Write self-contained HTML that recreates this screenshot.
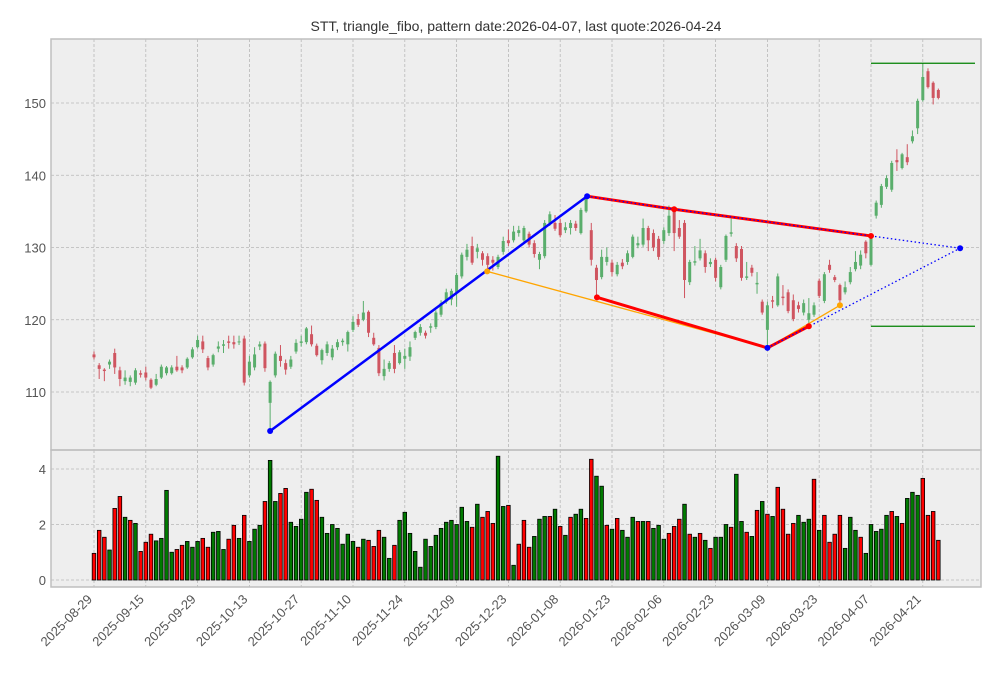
<!DOCTYPE html>
<html>
<head>
<meta charset="utf-8">
<style>
html,body{margin:0;padding:0;background:#fff;}
svg{display:block;font-family:"Liberation Sans",sans-serif;}
</style>
</head>
<body>
<svg id="chart" width="1001" height="678" viewBox="0 0 1001 678" xmlns="http://www.w3.org/2000/svg">
  <rect x="0" y="0" width="1001" height="678" fill="#ffffff"/>
  <text x="516" y="31" text-anchor="middle" font-size="14" fill="#333">STT, triangle_fibo, pattern date:2026-04-07, last quote:2026-04-24</text>
  <rect x="51" y="39" width="930" height="411" fill="#eeeeee"/>
  <rect x="51" y="450" width="930" height="137" fill="#eeeeee"/>
  <g id="grid"></g>
  <g id="candles"></g>
  <g id="vols"></g>
  <g id="pattern"></g>
  <rect x="51" y="39" width="930" height="411" fill="none" stroke="#bfbfbf" stroke-width="1.5"/>
  <rect x="51" y="450" width="930" height="137" fill="none" stroke="#bfbfbf" stroke-width="1.5"/>
  <g id="labels"></g>
</svg>
<script>
const openP=[115.2,113.7,113.1,113.8,115.4,113,111.5,111.4,111.3,112.6,112.7,111.7,111,112,112.6,112.6,113.5,113.4,113.4,114.8,116.2,117,114.7,113.8,116,116.4,117,116.9,116.9,117.4,112.3,113.4,116.3,116.7,108.5,112.3,115,114,113.5,115.6,116.8,116.9,118,116.4,114.4,115.4,114.8,116.2,116.9,116.6,118.6,120.1,120,121.1,117.5,116.1,112.2,113.2,115.4,114,114.6,114.9,117.5,118.2,118.2,118.9,119,120.7,122.5,122.8,123.8,126,128.7,130.2,129.4,129.2,128.8,128.3,127.3,129.4,131,131,132,131,131.9,130.6,128.3,128.8,133.4,133.4,133.4,132.4,132.7,133.3,132,135,132.4,127.2,125.9,128,127.9,126.3,127.9,128,128.7,130.3,130.4,132.7,132,131.2,130.9,132,135.2,132.7,133.4,125.2,127.9,128.5,129.2,127.7,128.3,124.5,128.3,131.9,130.2,129.8,125.8,127.2,124.9,122.5,118.6,122.7,122,123.2,123.8,122.7,122,121,120,120.7,125.4,122.6,127.6,125.9,124.8,123.8,125.2,127,127.5,130.8,127.6,134.4,135.9,138.4,138,142.1,141,142.5,144.7,146.5,150.4,154.4,152.8,151.8];
const closeP=[114.8,113.2,112.9,114.2,113.4,111.8,112,112,113,112.4,112,110.6,111.8,113.5,113.4,113.4,113,113,114.6,115.9,117.2,115.9,113.4,115.1,116.3,116.6,116.8,116.6,117,111.3,114.2,115.2,116.6,113.3,111.4,115.3,114.3,113.1,114.5,116.8,117,118.8,116.6,115.1,115.8,116.6,116,116.9,117.1,118.3,119.7,119.3,121,118.2,116.6,112.6,113.2,114,113.2,115.5,115,116.2,118.3,119,117.8,119.1,121,122.3,123.8,124,126.2,129,129.7,127.9,129.9,128.3,127.6,127.9,128.7,130.9,130.6,132.2,132.4,132.7,130.4,129.1,129.1,133.4,134.6,132.6,131.7,132.8,133.4,132.7,135.2,136.9,128.3,125.5,128.7,128.7,126.6,127.6,127.4,129.2,131.5,130.6,132.7,131,130,128.7,132.4,134.4,132,131.5,125.5,128,128.1,129.6,127.3,128,125.8,127.3,131.6,132.1,128.5,125.8,126,126.5,125.1,121,122,122.5,126,123,121.2,120.1,121.5,122.3,120.9,122,123.3,126.3,126.9,125.5,122.7,124.5,126.6,128,129,129.2,131.5,136.2,138.5,139.6,141.7,141.8,142.9,141.8,145.4,150.3,153.6,152.2,150.7,150.7];
const highP=[115.6,114,113.3,114.5,116,113.5,113,112.3,113.3,113,113.5,111.9,112.5,113.8,113.6,113.7,115,113.7,114.8,116.2,117.8,117.8,115,115.3,117,117.2,117.8,117.8,117.8,117.8,115,116.2,117,117,111.6,115.6,116.5,114.5,115,117.3,117.8,119,119.2,116.7,116,117,116.5,117.3,117.4,118.5,120.5,120.8,122.6,121.3,118.2,116.5,114.5,114.3,116.5,115.8,116,117,118.5,119.4,118.5,119.5,121.3,122.7,124.3,124.3,126.5,129.3,130.5,131.5,130.5,129.5,129.2,128.8,129,131.5,132.5,133,133,133,132.2,131,129.4,133.8,135,134.5,134,133.5,133.8,133.7,135.5,137.1,133.4,127.6,129.7,130,128.3,128,128.4,129.6,131.8,131.5,134,133,132.5,131.6,132.8,135.8,135.5,133.8,133.8,128.3,130.2,131.2,129.6,128.5,128.6,127.6,131.8,134,130.6,130.2,128,127.6,126.6,122.8,122.5,123.3,126.4,124.8,124.2,123.5,122.5,122.8,123,122.4,125.7,126.6,128.3,126.2,125,125.3,127.3,129.5,129.6,131,131.7,136.5,138.8,140,142,143.6,143.1,144.3,146.2,150.6,155.5,154.8,153,152];
const lowP=[114.5,111.8,111.5,113.2,112.5,110.8,111,110.8,111,112,111.6,110.4,110.8,111.8,112.3,112.4,112.8,112.6,113.2,114.6,116,115.4,113,113.5,115.5,115.4,116,116,116.5,110.9,112,113,115.8,112.8,104.6,112,113.5,112.4,113.2,115.3,116.3,116.6,116.3,114.9,113.8,115,114.4,115.8,116.4,115.6,118.3,119,119.8,117.6,116.4,112.2,111.6,112.8,112.6,113.8,113.2,114.3,117.2,117.8,117.4,118.2,118.7,120.4,122.2,122,121.8,125.7,128.2,127.6,128.5,127.5,126.5,126.8,127,129,130.2,130.7,131.5,130.5,130,128.6,127,128.5,133,132.3,131.4,132,131.8,132.3,131.8,134.8,127.5,123.1,125.6,127.5,126,126,127,127.6,128.5,129.9,130.1,129.5,129.5,128.3,130.5,131.6,129.5,131.2,123,124.8,127.5,128.2,126.5,127.3,125.3,124.2,128,131.5,128,125.4,125.5,126,123.6,120.7,116.1,121.6,121.8,122,120.9,119.8,121,120.6,119.1,120.4,123,122.3,126.5,125.2,122.4,123.5,124.9,126.7,127,128.5,127.4,134,135.5,138.1,137.7,140.6,140.8,141.4,144.4,145.7,150.2,152,149.8,150.5];
const volume=[0.96,1.79,1.54,1.08,2.58,3.01,2.26,2.15,2.04,1.03,1.36,1.65,1.41,1.5,3.23,1.0,1.1,1.25,1.39,1.18,1.39,1.5,1.18,1.72,1.75,1.1,1.47,1.97,1.5,2.33,1.39,1.83,1.97,2.83,4.31,2.83,3.12,3.3,2.08,1.93,2.19,3.16,3.27,2.87,2.26,1.68,2.0,1.86,1.29,1.65,1.39,1.18,1.47,1.43,1.21,1.79,1.54,0.78,1.25,2.15,2.44,1.68,1.03,0.46,1.47,1.21,1.61,1.86,2.08,2.15,2.0,2.62,2.11,1.9,2.73,2.26,2.47,2.04,4.46,2.65,2.69,0.53,1.29,2.15,1.18,1.57,2.19,2.29,2.29,2.55,1.93,1.61,2.26,2.37,2.55,2.22,4.35,3.74,3.38,1.97,1.83,2.22,1.79,1.54,2.26,2.11,2.11,2.11,1.86,1.97,1.47,1.68,1.93,2.19,2.73,1.65,1.54,1.68,1.43,1.14,1.54,1.54,2.0,1.9,3.81,2.11,1.72,1.57,2.51,2.83,2.37,2.29,3.34,2.55,1.65,2.04,2.33,2.08,2.19,3.63,1.79,2.33,1.36,1.65,2.33,1.14,2.26,1.79,1.54,0.96,2.0,1.75,1.83,2.33,2.47,2.29,2.04,2.94,3.16,3.05,3.66,2.33,2.47,1.43];
const volUp=[0,0,0,1,0,0,1,0,1,0,0,0,1,1,1,1,0,0,1,1,1,0,0,1,1,1,0,0,1,0,1,1,1,0,1,1,0,0,1,1,1,1,0,0,1,1,1,1,1,1,1,0,1,0,0,0,1,1,0,1,1,1,1,1,1,1,1,1,1,1,1,1,1,0,1,0,0,0,1,1,0,1,0,0,0,1,1,1,0,1,0,1,0,1,1,0,0,1,1,0,1,0,1,1,1,0,1,0,1,1,1,0,0,0,1,0,1,0,1,0,1,1,1,0,1,1,0,1,0,1,0,1,0,0,0,0,1,1,1,0,1,0,0,0,0,1,1,1,0,1,1,1,1,1,0,1,0,1,1,1,0,0,0];
const tickLabels=["2025-08-29","2025-09-15","2025-09-29","2025-10-13","2025-10-27","2025-11-10","2025-11-24","2025-12-09","2025-12-23","2026-01-08","2026-01-23","2026-02-06","2026-02-23","2026-03-09","2026-03-23","2026-04-07","2026-04-21"];
const tickIdx=[0,10,20,30,40,50,60,70,80,90,100,110,120,130,140,150,160];
const priceTicks=[110,120,130,140,150];
const volTicks=[0,2,4];
const blueLine=[[34,104.6],[95.2,137.1]];
const redTop=[[95.2,137.1],[112,135.3],[150,131.6]];
const redBottom=[[97.1,123.1],[130,116.1],[138,119.1]];
const orangeLine=[[75.9,126.7],[130,116.1],[144,122.0]];
const blueDot1=[[150,131.6],[167.2,129.9]];
const blueDot2=[[130,116.1],[167.2,129.9]];
const greenLevels=[155.5,119.1];
const greenStart=150;

const NS="http://www.w3.org/2000/svg";
const xS=i=>94+i*5.18;
const yP=p=>392-(p-110)*7.225;
const yV=v=>580-v*27.75;
function mk(tag,attrs,parent){const e=document.createElementNS(NS,tag);for(const k in attrs)e.setAttribute(k,attrs[k]);parent.appendChild(e);return e;}
const grid=document.getElementById('grid'),cg=document.getElementById('candles'),vg=document.getElementById('vols'),pg=document.getElementById('pattern'),lg=document.getElementById('labels');

tickIdx.forEach((t,k)=>{
  const x=xS(t);
  const g1=mk('line',{x1:x,x2:x,y1:39,y2:450,stroke:'#b8b8b8','stroke-dasharray':'3,2','stroke-width':0.8},grid);
  
  
  mk('line',{x1:x,x2:x,y1:450,y2:587,stroke:'#b8b8b8','stroke-dasharray':'3,2','stroke-width':0.8},grid);
  const tx=mk('text',{x:x-1,y:600,'text-anchor':'end','font-size':13,fill:'#555',transform:`rotate(-45 ${x-1} 600)`},lg);
  tx.textContent=tickLabels[k];
  
  
});
priceTicks.forEach(p=>{
  const y=yP(p);
  mk('line',{x1:51,x2:981,y1:y,y2:y,stroke:'#b8b8b8','stroke-dasharray':'3,2','stroke-width':0.8},grid);
  const tx=mk('text',{x:46,y:y+5,'text-anchor':'end','font-size':13,fill:'#555'},lg);
  tx.textContent=p;
  
  
});
volTicks.forEach(v=>{
  const y=yV(v);
  mk('line',{x1:51,x2:981,y1:y,y2:y,stroke:'#b8b8b8','stroke-dasharray':'3,2','stroke-width':0.8},grid);
  const tx=mk('text',{x:46,y:y+5,'text-anchor':'end','font-size':13,fill:'#555'},lg);
  tx.textContent=v;
  
  
});
openP.forEach((o,i)=>{
  const c=closeP[i],up=c>=o,col=up?'#5aae6c':'#cf5560',x=xS(i);
  const g=mk('g',{},cg);
  
  
  mk('line',{x1:x,x2:x,y1:yP(highP[i]),y2:yP(lowP[i]),stroke:col,'stroke-width':1},g);
  const top=yP(Math.max(o,c)),bot=yP(Math.min(o,c));
  mk('rect',{x:x-1.5,y:top,width:3,height:Math.max(bot-top,1),fill:col},g);
});
volume.forEach((v,i)=>{
  const x=xS(i);
  const r=mk('rect',{x:x-1.8,y:yV(v),width:3.6,height:yV(0)-yV(v),fill:volUp[i]?'#007a00':'#ff0000',stroke:'#000','stroke-width':0.8},vg);
  
  
});
function poly(pts,attrs,name){
  const e=mk('polyline',Object.assign({points:pts.map(p=>xS(p[0])+','+yP(p[1])).join(' '),fill:'none'},attrs),pg);
  
  
  return e;
}
function dots(pts,col,name){pts.forEach(p=>{const d=mk('circle',{cx:xS(p[0]),cy:yP(p[1]),r:3,fill:col},pg);});}
greenLevels.forEach(l=>{
  const e=mk('line',{x1:xS(greenStart),x2:975,y1:yP(l),y2:yP(l),stroke:'#008000','stroke-width':1.3},pg);
  
  
});
poly(orangeLine,{stroke:'#ffa500','stroke-width':1.3},'fibo-line');
poly(blueLine,{stroke:'#0000ff','stroke-width':2.5},'trend-line');
poly(redTop,{stroke:'#ff0000','stroke-width':3},'upper-triangle-line');
poly(redTop,{stroke:'#0000ff','stroke-width':1.2,'stroke-dasharray':'1.5,2.5'},'upper-dotted-line');
poly(redBottom,{stroke:'#ff0000','stroke-width':3},'lower-triangle-line');
poly(blueDot1,{stroke:'#0000ff','stroke-width':1.3,'stroke-dasharray':'1.5,2.5'},'projection-line-upper');
poly(blueDot2,{stroke:'#0000ff','stroke-width':1.3,'stroke-dasharray':'1.5,2.5'},'projection-line-lower');
dots([orangeLine[0],orangeLine[2]],'#ffa500','fibo-point');
dots([redTop[1],redTop[2],redBottom[0],redBottom[2]],'#ff0000','triangle-point');
dots([blueLine[0],blueLine[1],redBottom[1],blueDot1[1]],'#0000ff','pivot-point');
</script>
</body>
</html>
